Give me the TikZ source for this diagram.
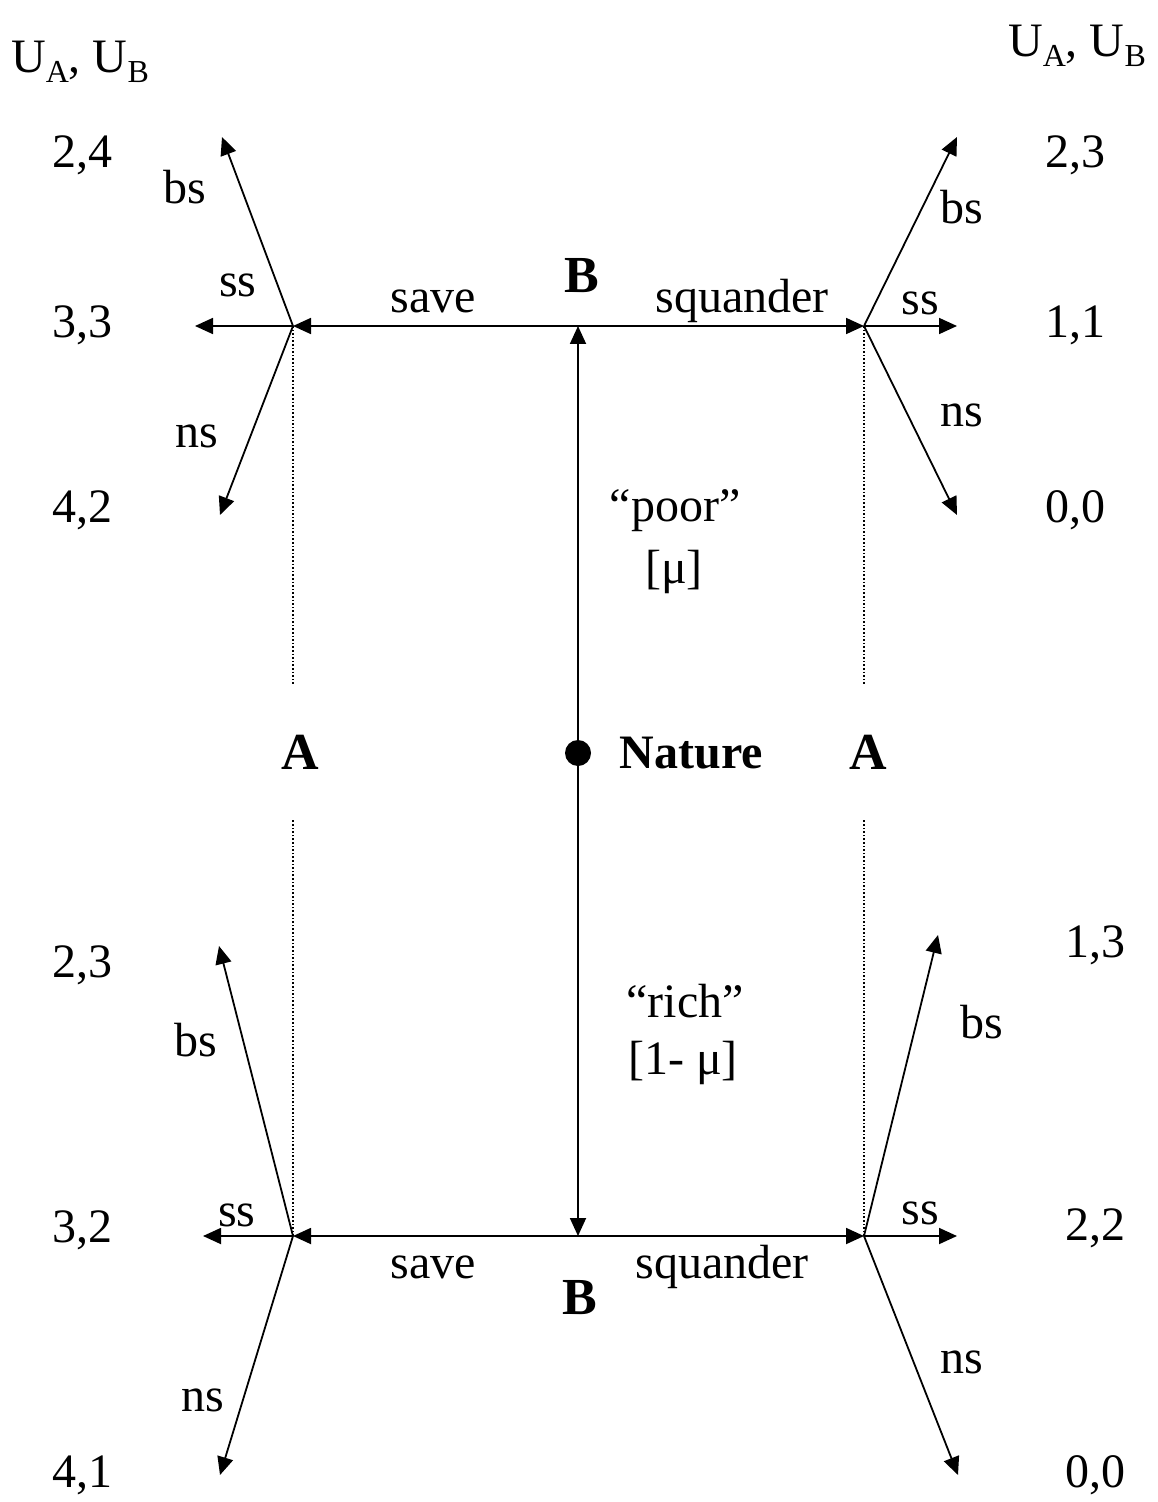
\documentclass[tikz,border=0pt]{standalone}
\usepackage{fontspec}
\setmainfont{Liberation Serif}
\usetikzlibrary{arrows.meta, positioning}
\newcommand\usub[1]{\raisebox{-0.45ex}{\fontsize{16}{18}\selectfont #1}}
\tikzset{
  lbl/.style={font=\fontsize{24}{28}\selectfont, inner sep=0pt},
  player/.style={font=\fontsize{26}{30}\selectfont\bfseries, inner sep=0pt},
  move/.style={-{Triangle[length=9pt, width=8pt]}, line width=0.9pt},
  guide/.style={line width=0.6pt, dash pattern=on 0.8pt off 1pt},
}
\begin{document}
\begin{tikzpicture}[x=0.5pt, y=-0.5pt]
  \useasboundingbox (0,0) rectangle (1157,1502);
  % decision points
  \coordinate (tl) at (293,326);
  \coordinate (tr) at (864,326);
  \coordinate (bl) at (293,1236);
  \coordinate (br) at (864,1236);
  \coordinate (Bt) at (578,326);
  \coordinate (Bb) at (578,1236);
  \node[circle, fill, inner sep=0pt, minimum size=13pt] (nat) at (578,753) {};
  % players
  \node[lbl, font=\fontsize{24}{28}\selectfont\bfseries, right=14pt of nat] (natl) {Nature};
  \node[player, outer ysep=25pt] (Al) at (300,752) {A};
  \node[player, outer ysep=25pt] (Ar) at (868,752) {A};
  \node[player] (Btl) at (582,276) {B};
  \node[player] (Bbl) at (580,1298) {B};
  % nature moves
  \draw[move] (nat) -- (Bt);
  \draw[move] (nat) -- (Bb);
  \node[lbl] (poor) at (675,511) {``poor''};
  \node[lbl] (mu) at (674,572) {[μ]};
  \node[lbl] (rich) at (685,1001) {``rich''};
  \node[lbl] (mu1) at (683,1063) {[1- μ]};
  % B moves
  \draw[move] (Bt) -- (tl);
  \draw[move] (Bt) -- (tr);
  \draw[move] (Bb) -- (bl);
  \draw[move] (Bb) -- (br);
  \node[lbl] (savet) at (433,301) {save};
  \node[lbl] (squt) at (742,301) {squander};
  \node[lbl] (saveb) at (433,1267) {save};
  \node[lbl] (squb) at (722,1267) {squander};
  % A's information sets
  \draw[guide] (tl) -- (tl |- Al.north);
  \draw[guide] (bl) -- (bl |- Al.south);
  \draw[guide] (tr) -- (tr |- Ar.north);
  \draw[guide] (br) -- (br |- Ar.south);
  % A moves
  \foreach \v/\m/\x/\y in {tl/bs/222/137, tl/ss/195/326, tl/ns/220/515,
      tr/bs/957/137, tr/ss/957/326, tr/ns/957/515,
      bl/bs/219/946, bl/ss/203/1236, bl/ns/220/1475,
      br/bs/938/935, br/ss/957/1236, br/ns/958/1475} {
    \coordinate (\v-\m) at (\x,\y);
    \draw[move] (\v) -- (\v-\m);
  }
  \foreach \n/\t/\x/\y in {tlb/bs/185/187, tls/ss/238/285, tln/ns/197/436,
      trb/bs/962/207, trs/ss/920/303, trn/ns/962/415,
      blb/bs/196/1040, bls/ss/237/1215, bln/ns/203/1400,
      brb/bs/982/1022, brs/ss/920/1213, brn/ns/962/1362}
    \node[lbl] (\n) at (\x,\y) {\t};
  % payoffs
  \node[lbl] (hl) at (80,62) {U\usub{A}, U\usub{B}};
  \node[lbl] (hr) at (1077,46) {U\usub{A}, U\usub{B}};
  \foreach \n/\t/\x/\y in {p1/{2,4}/82/155, p2/{3,3}/82/325, p3/{4,2}/82/510,
      p4/{2,3}/82/965, p5/{3,2}/82/1230, p6/{4,1}/82/1475,
      p7/{2,3}/1075/155, p8/{1,1}/1075/325, p9/{0,0}/1075/510,
      p10/{1,3}/1095/945, p11/{2,2}/1095/1228, p12/{0,0}/1095/1475}
    \node[lbl] (\n) at (\x,\y) {\t};
\end{tikzpicture}
\end{document}
